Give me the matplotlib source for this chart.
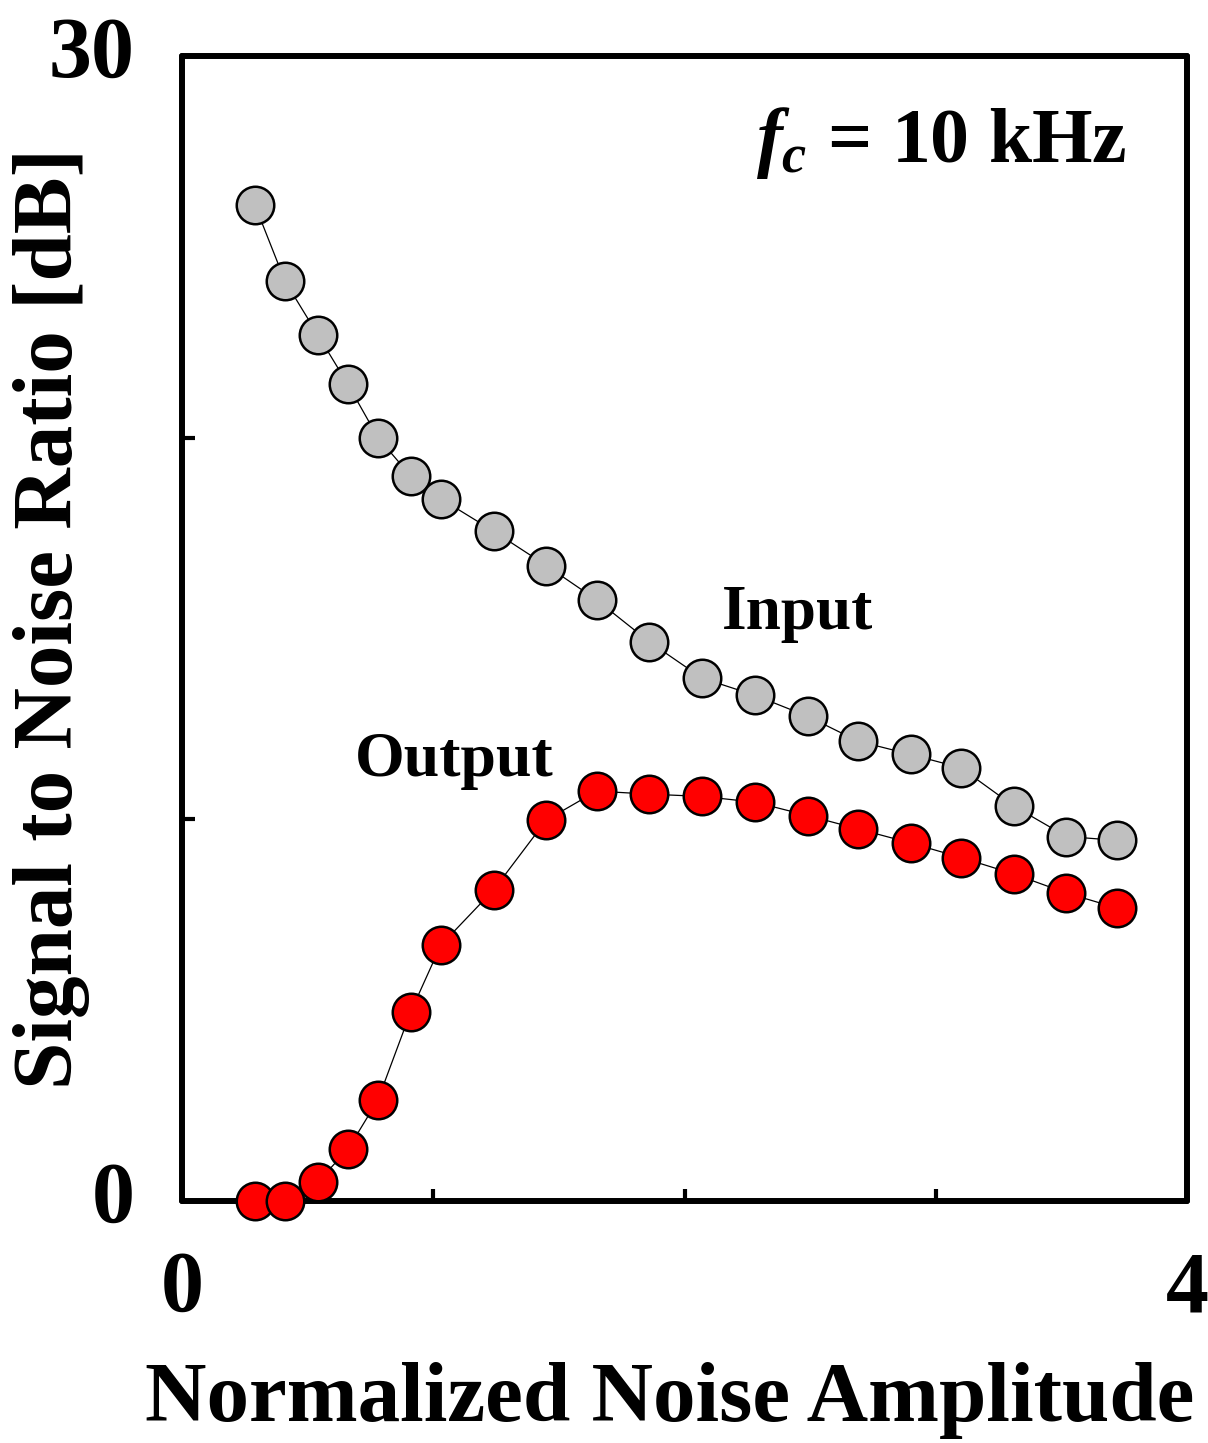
import matplotlib
matplotlib.use("Agg")
import matplotlib.pyplot as plt
import matplotlib.transforms as mtransforms

plt.rcParams['font.family'] = ['Liberation Serif', 'DejaVu Serif']
plt.rcParams['font.weight'] = 'bold'
plt.rcParams['mathtext.fontset'] = 'custom'
plt.rcParams['mathtext.rm'] = 'Liberation Serif:bold'
plt.rcParams['mathtext.it'] = 'Liberation Serif:italic:bold'
plt.rcParams['mathtext.bf'] = 'Liberation Serif:bold'

# Normalized noise amplitude
noise_amp = [0.29, 0.41, 0.54, 0.66, 0.78, 0.91, 1.03, 1.24, 1.45, 1.65,
             1.86, 2.07, 2.28, 2.49, 2.69, 2.90, 3.10, 3.31, 3.52, 3.72]
# SNR of the input signal [dB]
snr_input = [26.1, 24.1, 22.7, 21.4, 20.0, 19.0, 18.4, 17.55, 16.65, 15.75,
             14.65, 13.7, 13.25, 12.7, 12.05, 11.7, 11.35, 10.35, 9.55, 9.45]
# SNR of the output signal [dB]
snr_output = [0.0, 0.0, 0.5, 1.35, 2.65, 4.95, 6.7, 8.15, 9.98, 10.74,
              10.66, 10.6, 10.45, 10.1, 9.75, 9.38, 9.0, 8.57, 8.07, 7.68]

x_ticks = [0, 1, 2, 3, 4]
x_ticklabels = ['0', '', '', '', '4']
y_ticks = [0, 10, 20, 30]
y_ticklabels = ['0', '', '', '30']

W, H = 1208, 1443
fig = plt.figure(figsize=(W / 100, H / 100), dpi=100)
ax = fig.add_axes([182 / W, 1 - 1201 / H, (1187 - 182) / W, (1201 - 56) / H])

line_kw = dict(color='black', lw=0.9, marker='o', ms=27, mew=1.8,
               mec='black', clip_on=False, zorder=5)
ax.plot(noise_amp, snr_input, mfc='#C0C0C0', **line_kw)
ax.plot(noise_amp, snr_output, mfc='#FF0000', **line_kw)

ax.set_xlim(0, 4)
ax.set_ylim(0, 30)

for sp in ax.spines.values():
    sp.set_linewidth(4.3)
    sp.set_capstyle('round')
    sp.set_joinstyle('round')
    sp.set_zorder(3)

ax.set_xticks(x_ticks)
ax.set_xticklabels(x_ticklabels)
ax.set_yticks(y_ticks)
ax.set_yticklabels(y_ticklabels)
ax.tick_params(direction='in', length=9, width=3, labelsize=62)
ax.tick_params(axis='x', pad=36)
ax.tick_params(axis='y', pad=34)

# shift the y tick labels slightly upward
for lbl in ax.get_yticklabels():
    lbl.set_transform(lbl.get_transform() +
                      mtransforms.ScaledTranslation(0, 9 / 100, fig.dpi_scale_trans))
for lbl in ax.get_yticklabels() + ax.get_xticklabels():
    lbl.set_fontweight('bold')

ax.set_xlabel('Normalized Noise Amplitude', fontsize=61.3, fontweight='bold')
ax.set_ylabel('Signal to Noise Ratio [dB]', fontsize=61.3, fontweight='bold')
ax.xaxis.set_label_coords(0.4856, -0.141)
ax.yaxis.set_label_coords(-0.0915, 0.5087)

ax.text(2.149, 14.98, 'Input', fontsize=45.5, fontweight='bold', ha='left', va='baseline')
ax.text(0.689, 11.13, 'Output', fontsize=46, fontweight='bold', ha='left', va='baseline')
ax.text(3.761, 27.22, r'$f_c$ = 10 kHz', fontsize=56, fontweight='bold',
        ha='right', va='baseline')

fig.savefig('out.png', dpi=100)
